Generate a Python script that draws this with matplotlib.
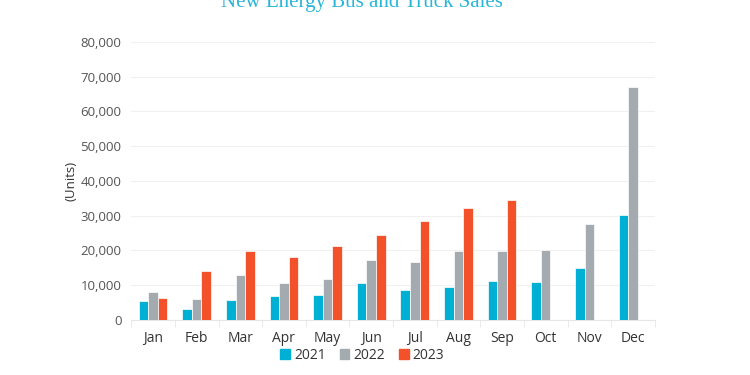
import matplotlib.pyplot as plt
import numpy as np
from matplotlib.patches import Patch

months = ['Jan', 'Feb', 'Mar', 'Apr', 'May', 'Jun', 'Jul', 'Aug', 'Sep', 'Oct', 'Nov', 'Dec']
sales_2021 = [5300, 3100, 5800, 7000, 7300, 10600, 8700, 9500, 11300, 10900, 15000, 30300]
sales_2022 = [7900, 5900, 12800, 10600, 11700, 17300, 16800, 19700, 19900, 20100, 27500, 67000]
sales_2023 = [6300, 14200, 19700, 18200, 21300, 24300, 28500, 32300, 34400, None, None, None]

series = [('2021', sales_2021, '#00b0d4'),
          ('2022', sales_2022, '#a4abb0'),
          ('2023', sales_2023, '#f2512a')]

plt.rcParams['font.family'] = ['Open Sans', 'DejaVu Sans']

fig = plt.figure(figsize=(7.5, 3.75), dpi=100)
ax = fig.add_axes([0.175, 0.147, 0.698, 0.741])

x = np.arange(len(months))
w = 0.22
for i, (label, vals, color) in enumerate(series):
    xs = [xi + (i - 1) * w for xi, v in zip(x, vals) if v is not None]
    ys = [v for v in vals if v is not None]
    ax.bar(xs, ys, width=w, color=color, edgecolor='white', linewidth=0.5, label=label, zorder=3)

ax.set_xlim(-0.5, len(months) - 0.5)
ax.set_ylim(0, 80000)
ax.set_yticks(range(0, 80001, 10000))
ax.set_yticklabels([f'{v:,}' for v in range(0, 80001, 10000)])
ax.set_xticks(x)
ax.set_xticklabels(months)
ax.set_xticks(np.arange(-0.5, len(months)), minor=True)
ax.tick_params(axis='x', which='major', length=0, pad=8, labelsize=10, labelcolor='#333333')
ax.tick_params(axis='x', which='minor', length=5, color='#e6e6e6', direction='out')
ax.tick_params(axis='y', length=0, pad=7, labelsize=9.5, labelcolor='#555555')
ax.grid(axis='y', color='#f0f0f0', linewidth=0.8, zorder=0)

for s in ['top', 'right', 'left']:
    ax.spines[s].set_visible(False)
ax.spines['bottom'].set_color('#e6e6e6')

ax.set_ylabel('(Units)', fontsize=9.5, color='#333333', labelpad=2)

fig.text(0.483, 0.992, 'New Energy Bus and Truck Sales', ha='center', va='center',
         fontsize=15, color='#29b6d8', family=['Liberation Serif', 'DejaVu Serif'])

handles = [Patch(color=c, label=l) for l, _, c in series]
fig.legend(handles=handles, loc='center', bbox_to_anchor=(0.483, 0.053), ncol=3, frameon=False,
           fontsize=10, handlelength=0.7, handleheight=0.7, handletextpad=0.3, columnspacing=1.0,
           labelcolor='#333333')

fig.savefig('out.png', dpi=100)
